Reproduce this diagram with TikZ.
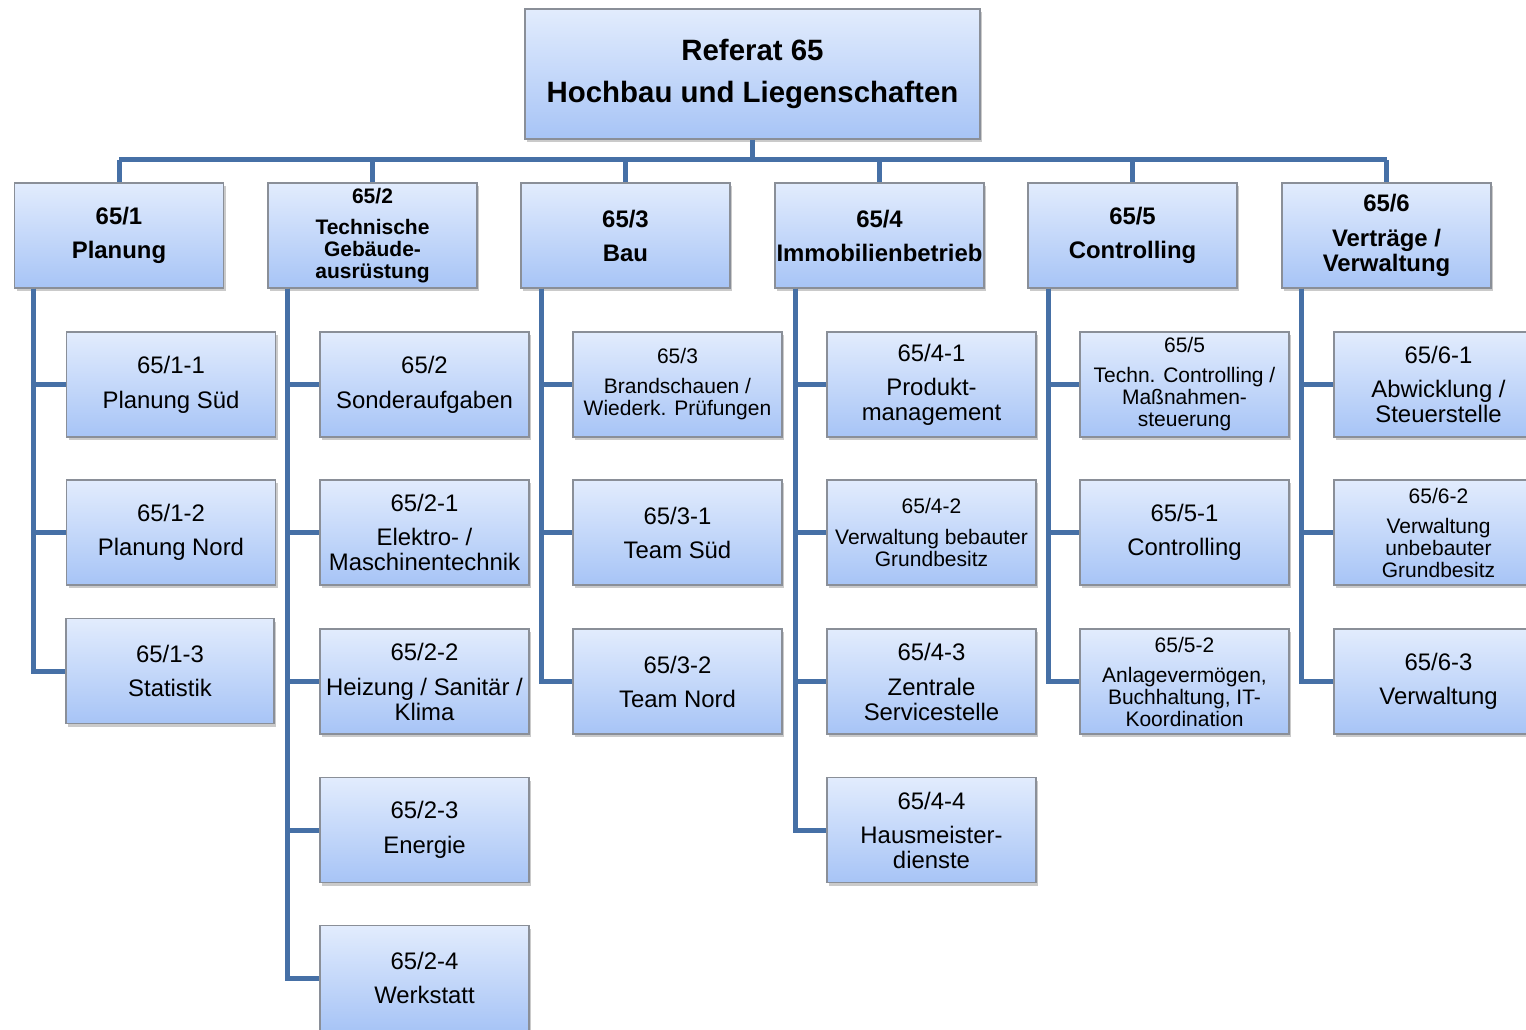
\documentclass[tikz,border=0pt]{standalone}
\usepackage{fontspec}
\setmainfont{Liberation Sans}
\usetikzlibrary{shadows}
\definecolor{boxtop}{HTML}{E2ECFD}
\definecolor{boxbot}{HTML}{A7C4F6}
\definecolor{boxedge}{HTML}{8A8F98}
\definecolor{linkblue}{HTML}{4670A6}
\newcommand{\bigtxt}{\fontsize{23.9}{25}\selectfont}
\newcommand{\smalltxt}{\fontsize{21}{22}\selectfont}
\begin{document}
\begin{tikzpicture}[x=1pt,y=-1pt,
  box/.style={rectangle, draw=boxedge, line width=1.1pt, top color=boxtop, bottom color=boxbot,
    minimum width=209pt, minimum height=105pt, inner sep=0pt, align=center, text=black,
    drop shadow={shadow xshift=2pt, shadow yshift=-3pt, opacity=0.35, fill=black!60}},
  headbox/.style={box, minimum width=455pt, minimum height=130pt, font=\fontsize{29.4}{31}\selectfont\bfseries},
  deptbox/.style={box, font=\bigtxt\bfseries},
  deptsmall/.style={box, font=\smalltxt\bfseries},
  subbox/.style={box, font=\bigtxt},
  subsmall/.style={box, font=\smalltxt},
  link/.style={draw=linkblue, line width=5pt}]
\useasboundingbox (0,0) rectangle (1526,1030);
\clip (0,0) rectangle (1526,1030);

% head
\node[headbox] (top) at (752.5,74) {Referat 65\\[11pt]Hochbau und Liegenschaften};

% departments
\node[deptbox]   (d1) at (119,235.5)    {65/1\\[9pt]Planung};
\node[deptsmall] (d2) at (372.5,235.5)  {65/2\\[9pt]Technische\\Gebäude-\\ausrüstung};
\node[deptbox]   (d3) at (625.5,235.5)  {65/3\\[9pt]Bau};
\node[deptbox]   (d4) at (879.5,235.5)  {65/4\\[9pt]Immobilienbetrieb};
\node[deptbox]   (d5) at (1132.5,235.5) {65/5\\[9pt]Controlling};
\node[deptbox]   (d6) at (1386.5,235.5) {65/6\\[10pt]Verträge /\\Verwaltung};

% units of 65/1
\node[subbox] (s11) at (171,384.5) {65/1-1\\[10pt]Planung Süd};
\node[subbox] (s12) at (171,532.5) {65/1-2\\[9pt]Planung Nord};
\node[subbox, minimum width=208pt] (s13) at (170,671) {65/1-3\\[9pt]Statistik};

% units of 65/2
\node[subbox] (s21) at (424.5,384.5) {65/2\\[10pt]Sonderaufgaben};
\node[subbox] (s22) at (424.5,532.5) {65/2-1\\[9pt]Elektro- /\\Maschinentechnik};
\node[subbox] (s23) at (424.5,681.5) {65/2-2\\[10pt]Heizung / Sanitär /\\Klima};
\node[subbox] (s24) at (424.5,830)   {65/2-3\\[10pt]Energie};
\node[subbox] (s25) at (424.5,978)   {65/2-4\\[9pt]Werkstatt};

% units of 65/3
\node[subsmall] (s31) at (677.5,384.5) {65/3\\[8pt]Brandschauen /\\Wiederk. Prüfungen};
\node[subbox]   (s32) at (677.5,532.5) {65/3-1\\[9pt]Team Süd};
\node[subbox]   (s33) at (677.5,681.5) {65/3-2\\[9pt]Team Nord};

% units of 65/4
\node[subbox]   (s41) at (931.5,384.5) {65/4-1\\[9pt]Produkt-\\management};
\node[subsmall] (s42) at (931.5,532.5) {65/4-2\\[9pt]Verwaltung bebauter\\Grundbesitz};
\node[subbox]   (s43) at (931.5,681.5) {65/4-3\\[10pt]Zentrale\\Servicestelle};
\node[subbox]   (s44) at (931.5,830)   {65/4-4\\[9pt]Hausmeister-\\dienste};

% units of 65/5
\node[subsmall] (s51) at (1184.5,384.5) {65/5\\[8pt]Techn. Controlling /\\Maßnahmen-\\steuerung};
\node[subbox]   (s52) at (1184.5,532.5) {65/5-1\\[9pt]Controlling};
\node[subsmall] (s53) at (1184.5,681.5) {65/5-2\\[8pt]Anlagevermögen,\\Buchhaltung, IT-\\Koordination};

% units of 65/6
\node[subbox]   (s61) at (1438.5,384.5) {65/6-1\\[9pt]Abwicklung /\\Steuerstelle};
\node[subsmall] (s62) at (1438.5,532.5) {65/6-2\\[8pt]Verwaltung\\unbebauter\\Grundbesitz};
\node[subbox]   (s63) at (1438.5,681.5) {65/6-3\\[9pt]Verwaltung};

% bus between head and departments
\coordinate (busL) at (119,160);
\coordinate (busR) at (1386.5,160);
\draw[link] (busL) -- (busR);
\draw[link] (top.south) -- (top.south |- busL);
\foreach \d in {d1,d2,d3,d4,d5,d6}
  \draw[link] (\d.north |- busL) -- (\d.north);

% trunks below each department
\coordinate (t1) at ([xshift=20pt]d1.south west);
\coordinate (t2) at ([xshift=20pt]d2.south west);
\coordinate (t3) at ([xshift=21pt]d3.south west);
\coordinate (t4) at ([xshift=21pt]d4.south west);
\coordinate (t5) at ([xshift=21pt]d5.south west);
\coordinate (t6) at ([xshift=20pt]d6.south west);

\foreach \s in {s11,s12,s13} \draw[link, line join=miter] (t1) |- (\s.west);
\foreach \s in {s21,s22,s23,s24,s25} \draw[link, line join=miter] (t2) |- (\s.west);
\foreach \s in {s31,s32,s33} \draw[link, line join=miter] (t3) |- (\s.west);
\foreach \s in {s41,s42,s43,s44} \draw[link, line join=miter] (t4) |- (\s.west);
\foreach \s in {s51,s52,s53} \draw[link, line join=miter] (t5) |- (\s.west);
\foreach \s in {s61,s62,s63} \draw[link, line join=miter] (t6) |- (\s.west);
\end{tikzpicture}
\end{document}
